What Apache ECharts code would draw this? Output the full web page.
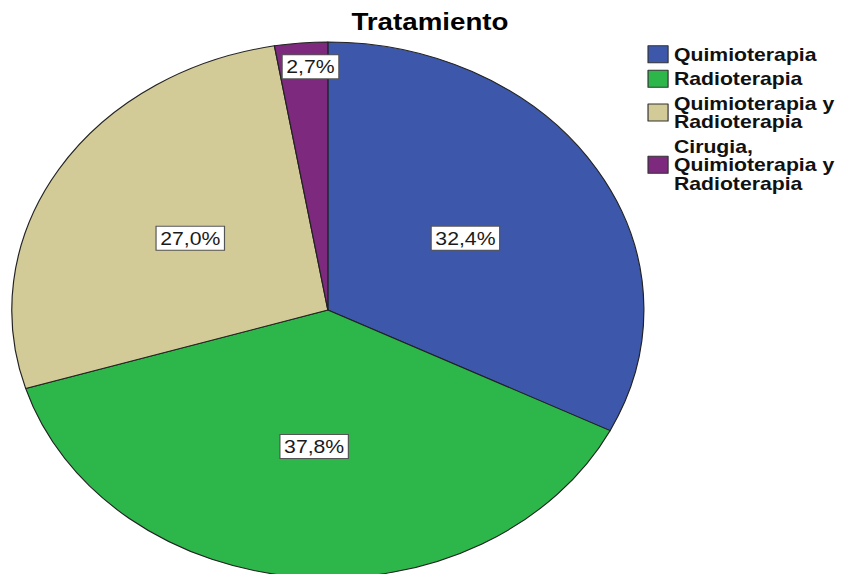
<!DOCTYPE html>
<html>
<head>
<meta charset="utf-8">
<script src="https://cdn.jsdelivr.net/npm/echarts@6/dist/echarts.min.js"></script>
<style>
    html, body { margin: 0; padding: 0; background: #fff; overflow: hidden; }
    /* el grafico original esta estirado en horizontal (circulo -> elipse) */
    #Tratamiento { width: 714px; height: 574px; transform: scaleX(1.1793); transform-origin: 0 0; }
</style>
</head>
<body>
<div id="Tratamiento"></div>
<script>
// datos
var categorias = ['Quimioterapia', 'Radioterapia', 'Quimioterapia y\nRadioterapia', 'Cirugia,\nQuimioterapia y\nRadioterapia'];
var porcentajes = [32.4, 37.8, 27.0, 2.7];
var colores = ['#3D58AB', '#2DB74B', '#D3CB97', '#7D2A7E'];

var radio = 268;

function PieChart(ele){
    var dom = document.getElementById(ele);
    var myChart = echarts.init(dom, null, {renderer: 'svg'});

    var total = porcentajes.reduce(function(a, b){ return a + b; }, 0);
    var acum = 0;
    var datos = porcentajes.map(function(v, i){
        var mid = (acum + v / 2) / total;
        acum += v;
        var item = {value: v, name: categorias[i], itemStyle: {color: colores[i]}};
        // etiqueta de las porciones pequenas hacia fuera
        if (v < 5) {
            var ang = mid * Math.PI * 2;
            var d = radio * 0.4;
            item.label = {offset: [Math.sin(ang) * d + 6, -Math.cos(ang) * d]};
        }
        return item;
    });

    var option = {
        animation: false,
        title: {
            text: 'Tratamiento',
            left: 298,
            top: 10,
            padding: 0,
            textStyle: {
                color: '#000',
                fontFamily: 'Liberation Sans',
                fontWeight: 'bold',
                fontSize: 23.5
            }
        },
        legend: {
            orient: 'vertical',
            left: 549,
            top: 45,
            padding: 0,
            itemGap: 6,
            itemWidth: 17,
            itemHeight: 17,
            icon: 'rect',
            itemStyle: {borderColor: '#333', borderWidth: 1},
            textStyle: {
                color: '#111',
                fontFamily: 'Liberation Sans',
                fontWeight: 'bold',
                fontSize: 18,
                lineHeight: 18.5
            },
            data: categorias
        },
        series: [
            {
                name: 'Tratamiento',
                type: 'pie',
                center: [278, 310],
                radius: [0, radio],
                startAngle: 90,
                clockwise: true,
                avoidLabelOverlap: false,
                emphasis: {disabled: true},
                itemStyle: {borderColor: '#222', borderWidth: 1},
                label: {
                    show: true,
                    position: 'inside',
                    formatter: function(p){ return p.value.toFixed(1).replace('.', ',') + '%'; },
                    fontFamily: 'Liberation Sans',
                    fontSize: 18,
                    lineHeight: 18,
                    color: '#1a1a1a',
                    backgroundColor: '#fff',
                    borderColor: '#555',
                    borderWidth: 1,
                    padding: [3, 3, 2, 3]
                },
                labelLine: {show: false},
                data: datos
            }
        ]
    };
    myChart.setOption(option, true);
}
PieChart('Tratamiento');
</script>
</body>
</html>
